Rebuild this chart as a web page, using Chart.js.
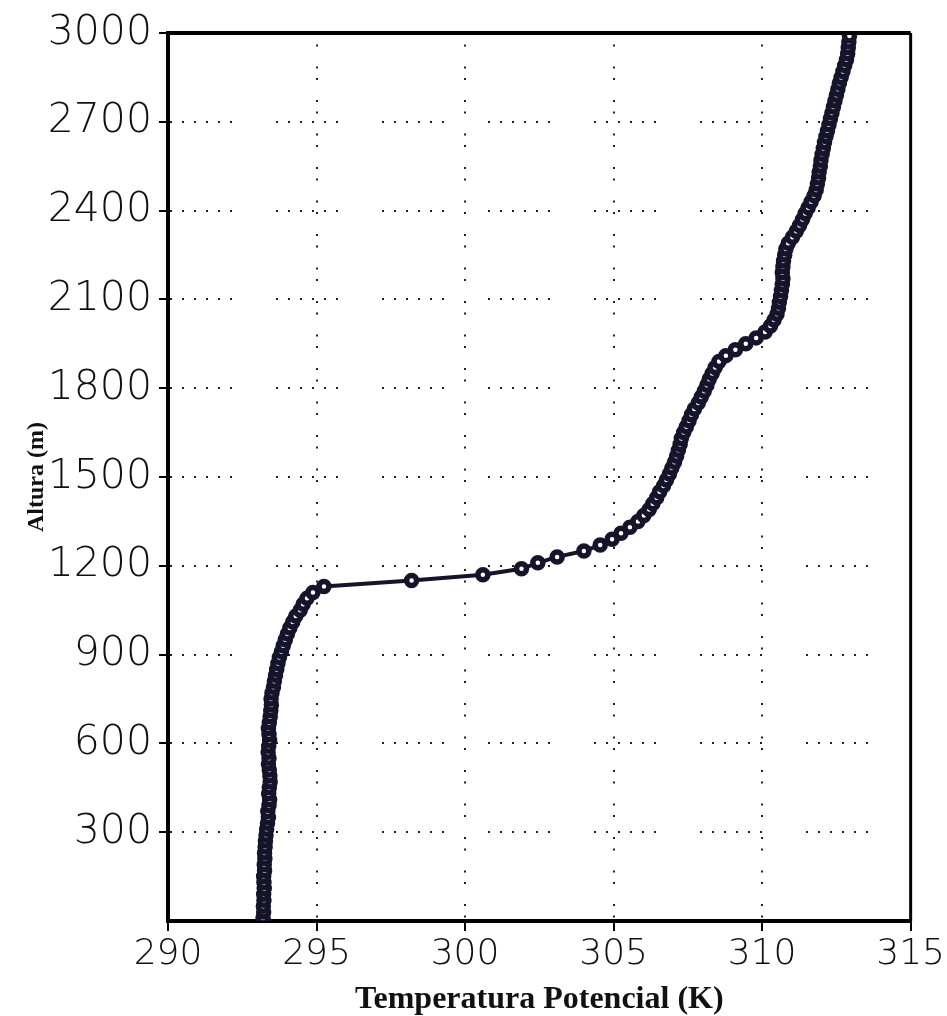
<!DOCTYPE html>
<html>
<head>
<meta charset="utf-8">
<title>Perfil de temperatura potencial</title>
<script src="https://cdn.jsdelivr.net/npm/chart.js@4.4.1/dist/chart.umd.min.js"></script>
<style>
  html, body { margin: 0; padding: 0; background: #fff; }
  #wrap { width: 947px; height: 1016px; position: relative; }
</style>
</head>
<body>
<div id="wrap"><canvas id="perfil"></canvas></div>
<script>
// perfil vertical: altura (m) e temperatura potencial (K)
const alturas = [
  10, 30, 50, 70, 90, 110, 130, 150, 170, 190, 210, 230, 250, 270, 290,
  310, 330, 350, 370, 390, 410, 430, 450, 470, 490,
  510, 530, 550, 570, 590, 610, 630, 650, 670, 690, 710, 730, 750, 770, 790,
  810, 830, 850, 870, 890, 910, 930, 950, 970, 990,
  1010, 1030, 1050, 1070, 1090, 1110, 1130, 1150, 1170, 1190,
  1210, 1230, 1250, 1270, 1290, 1310, 1330, 1350, 1370, 1390,
  1410, 1430, 1450, 1470, 1490, 1510, 1530, 1550, 1570, 1590,
  1610, 1630, 1650, 1670, 1690, 1710, 1730, 1750, 1770, 1790,
  1810, 1830, 1850, 1870, 1890, 1910, 1930, 1950, 1970, 1990,
  2010, 2030, 2050, 2070, 2090, 2110, 2130, 2150, 2170, 2190,
  2210, 2230, 2250, 2270, 2290, 2310, 2330, 2350, 2370, 2390,
  2410, 2430, 2450, 2470, 2490, 2510, 2530, 2550, 2570, 2590,
  2610, 2630, 2650, 2670, 2690, 2710, 2730, 2750, 2770, 2790,
  2810, 2830, 2850, 2870, 2890, 2910, 2930, 2950, 2970, 2990
];

const theta = [
  293.20, 293.22, 293.21, 293.23, 293.22, 293.24, 293.23, 293.22, 293.25, 293.24, 293.26, 293.25, 293.27, 293.28, 293.30,
  293.32, 293.35, 293.38, 293.36, 293.40, 293.42, 293.39, 293.41, 293.44, 293.43,
  293.41, 293.38, 293.40, 293.37, 293.39, 293.42, 293.40, 293.38, 293.41, 293.44, 293.46, 293.48, 293.47, 293.50, 293.55,
  293.58, 293.62, 293.66, 293.70, 293.75, 293.82, 293.88, 293.95, 294.02, 294.10,
  294.20, 294.30, 294.45, 294.55, 294.68, 294.88, 295.25, 298.20, 300.60, 301.90,
  302.45, 303.10, 304.00, 304.55, 304.95, 305.25, 305.55, 305.82, 306.02, 306.20,
  306.32, 306.45, 306.55, 306.68, 306.78, 306.88, 306.96, 307.05, 307.12, 307.18,
  307.24, 307.28, 307.36, 307.45, 307.54, 307.62, 307.72, 307.85, 307.95, 308.05,
  308.14, 308.22, 308.32, 308.42, 308.55, 308.78, 309.10, 309.45, 309.80, 310.10,
  310.28, 310.40, 310.50, 310.55, 310.58, 310.62, 310.65, 310.68, 310.70, 310.68,
  310.70, 310.72, 310.76, 310.80, 310.88, 311.02, 311.15, 311.26, 311.36, 311.45,
  311.55, 311.65, 311.75, 311.82, 311.86, 311.90, 311.92, 311.96, 311.98, 312.02,
  312.06, 312.10, 312.15, 312.20, 312.25, 312.30, 312.35, 312.40, 312.45, 312.50,
  312.55, 312.60, 312.66, 312.72, 312.78, 312.84, 312.88, 312.90, 312.92, 312.94
];

// eixos
const xMin = 290, xMax = 315, xPasso = 5;
const yMin = 0, yMax = 3000, yPasso = 300;

const corLinha = '#15142a';
const fonteNum = "'DejaVu Sans', sans-serif";
const fonteTitulo = "'Liberation Serif', 'Times New Roman', serif";

const pontos = alturas.map((h, i) => ({ x: theta[i], y: h }));

// moldura: linhas de cima e da direita
const moldura = {
  id: 'moldura',
  afterDatasetsDraw(chart) {
    const { ctx, chartArea: a } = chart;
    ctx.save();
    ctx.strokeStyle = '#000';
    ctx.lineWidth = 4;
    ctx.beginPath();
    ctx.moveTo(a.left, a.top);
    ctx.lineTo(a.right, a.top);
    ctx.stroke();
    ctx.lineWidth = 3;
    ctx.beginPath();
    ctx.moveTo(a.right, a.top);
    ctx.lineTo(a.right, a.bottom);
    ctx.stroke();
    ctx.restore();
  }
};

const ctx = document.getElementById('perfil').getContext('2d');

new Chart(ctx, {
  type: 'scatter',
  data: {
    datasets: [{
      data: pontos,
      showLine: true,
      borderColor: corLinha,
      borderWidth: 4,
      tension: 0,
      pointStyle: 'circle',
      pointRadius: 5,
      pointBorderWidth: 5.5,
      pointBorderColor: corLinha,
      pointBackgroundColor: '#fff'
    }]
  },
  options: {
    responsive: true,
    maintainAspectRatio: false,
    animation: false,
    layout: { padding: { top: 33, right: 35, left: 0, bottom: 0 } },
    plugins: {
      legend: { display: false },
      tooltip: { enabled: false }
    },
    scales: {
      x: {
        type: 'linear',
        min: xMin,
        max: xMax,
        afterFit: s => { s.height = 95; },
        ticks: {
          stepSize: xPasso,
          color: '#111',
          padding: 2,
          font: { family: fonteNum, size: 36, weight: 200 }
        },
        grid: {
          color: '#222',
          lineWidth: 2,
          tickLength: 10,
          tickWidth: 2,
          tickColor: '#000'
        },
        border: { display: true, color: '#000', width: 4, dash: [2, 9.5, 2, 20] },
        title: {
          display: true,
          text: 'Temperatura Potencial (K)',
          color: '#111',
          padding: { top: 0, bottom: 0 },
          font: { family: fonteTitulo, size: 32, weight: 'bold', lineHeight: 1 }
        }
      },
      y: {
        type: 'linear',
        min: yMin,
        max: yMax,
        afterFit: s => { s.width = 168; },
        ticks: {
          stepSize: yPasso,
          color: '#111',
          padding: 7,
          font: { family: fonteNum, size: 41, weight: 200 },
          callback: v => (v === 0 ? '' : v)
        },
        grid: {
          color: '#222',
          lineWidth: 2,
          tickLength: 9,
          tickWidth: 2,
          tickColor: c => (c.tick && c.tick.value === 0 ? 'rgba(0,0,0,0)' : '#000')
        },
        border: { display: true, color: '#000', width: 4, dash: [2, 10, 2, 10, 2, 10, 2, 10, 2, 10, 2, 44] },
        title: {
          display: true,
          text: 'Altura (m)',
          color: '#111',
          padding: { top: 22, bottom: 0 },
          font: { family: fonteTitulo, size: 24, weight: 'bold' }
        }
      }
    }
  },
  plugins: [moldura]
});
</script>
</body>
</html>
